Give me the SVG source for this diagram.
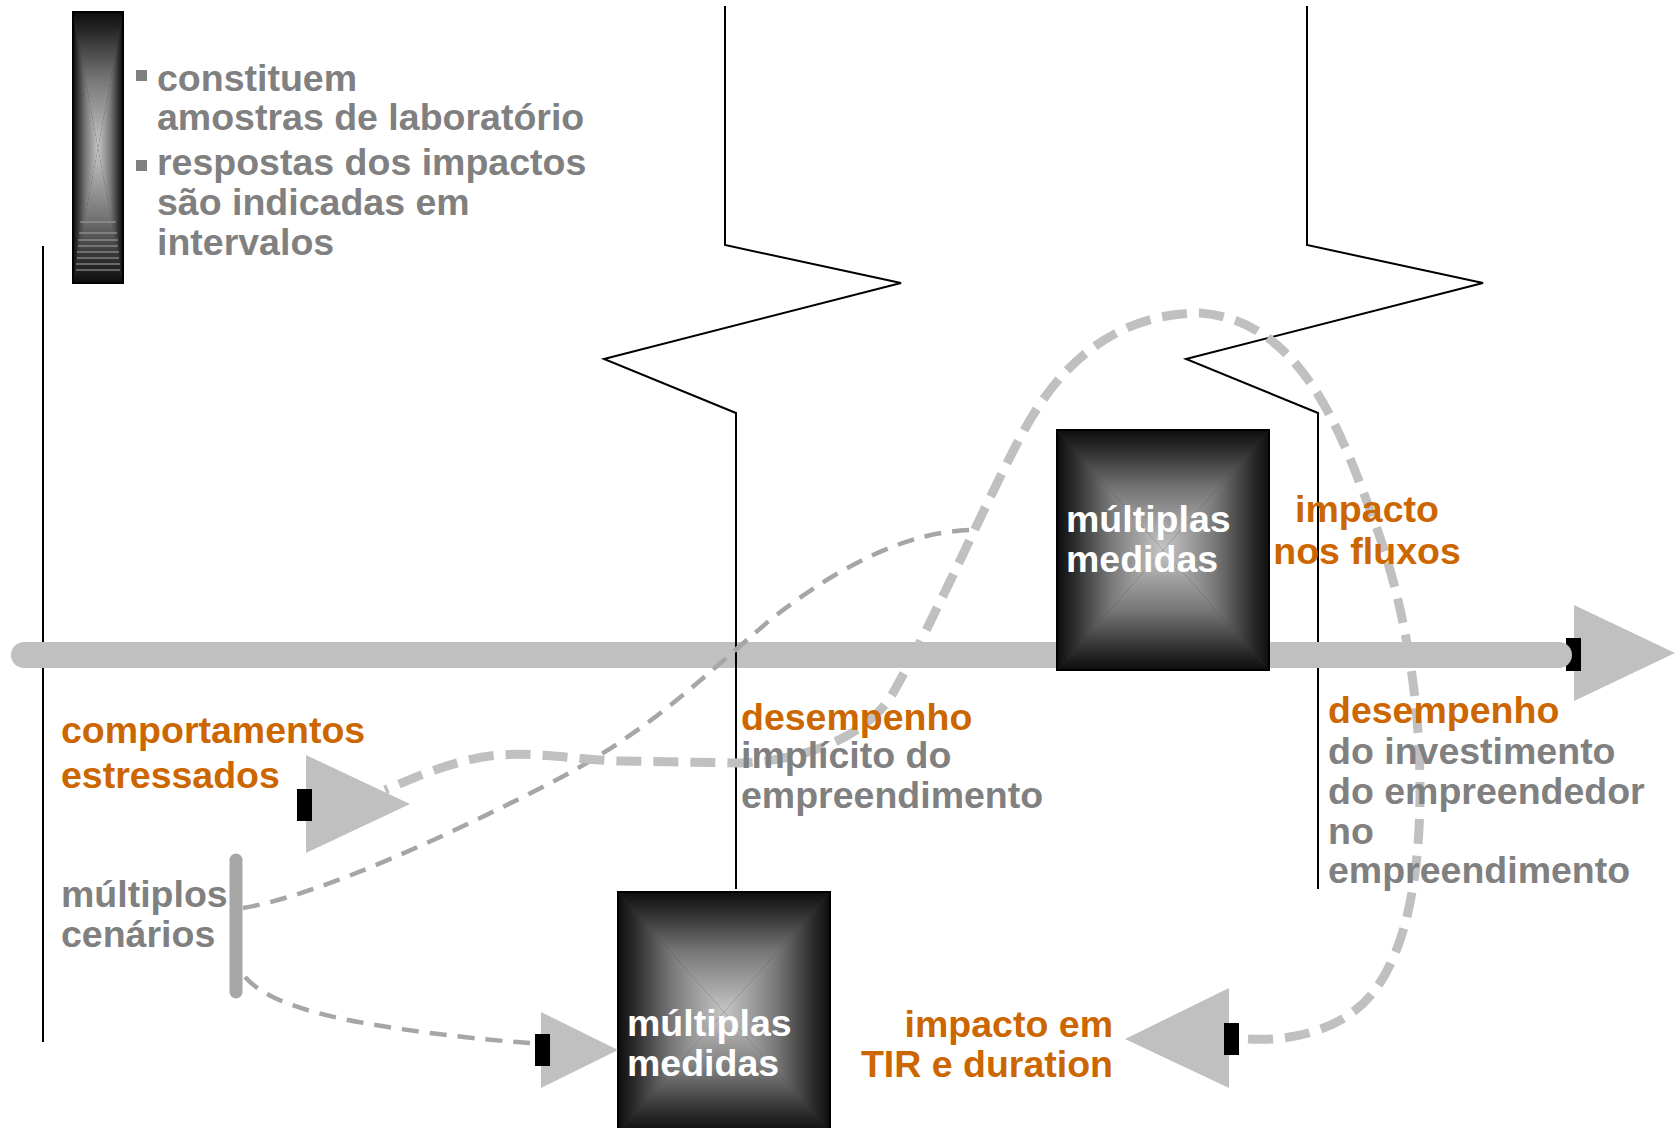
<svg xmlns="http://www.w3.org/2000/svg" width="1675" height="1128" viewBox="0 0 1675 1128">
<defs>
<linearGradient id="gT" x1="0" y1="0" x2="0" y2="1"><stop offset="0" stop-color="#0d0d0d"/><stop offset="0.15" stop-color="#2a2a2a"/><stop offset="0.5" stop-color="#777"/><stop offset="1" stop-color="#c6c6c6"/></linearGradient>
<linearGradient id="gB" x1="0" y1="1" x2="0" y2="0"><stop offset="0" stop-color="#0d0d0d"/><stop offset="0.15" stop-color="#2a2a2a"/><stop offset="0.5" stop-color="#777"/><stop offset="1" stop-color="#c6c6c6"/></linearGradient>
<linearGradient id="gL" x1="0" y1="0" x2="1" y2="0"><stop offset="0" stop-color="#0d0d0d"/><stop offset="0.15" stop-color="#2a2a2a"/><stop offset="0.5" stop-color="#777"/><stop offset="1" stop-color="#c6c6c6"/></linearGradient>
<linearGradient id="gR" x1="1" y1="0" x2="0" y2="0"><stop offset="0" stop-color="#0d0d0d"/><stop offset="0.15" stop-color="#2a2a2a"/><stop offset="0.5" stop-color="#777"/><stop offset="1" stop-color="#c6c6c6"/></linearGradient>
</defs>
<style>
.t{font-family:"Liberation Sans",Arial,Helvetica,sans-serif;font-weight:bold;font-size:37.5px}
.g{fill:#808080}
.o{fill:#cc6600}
.w{fill:#ffffff}
.ln{fill:none;stroke:#000;stroke-width:2}
.tri{fill:#c0c0c0}
.blk{fill:#000}
.thin{fill:none;stroke:#a6a6a6;stroke-width:4.5;stroke-dasharray:17 11}
.thick{fill:none;stroke:#c0c0c0;stroke-width:9;stroke-dasharray:25 12}
.frame{fill:none;stroke:#000;stroke-width:2}
.stripe{stroke:#a0a0a0;stroke-width:1.5;opacity:0.7}
</style>

<g id="guides">
<line class="ln" x1="43" y1="246" x2="43" y2="1042"/>
<polyline class="ln" points="1307,6 1307,245 1483,283 1186,359 1318,413 1318,889"/>
</g>

<g id="axis">
<polygon class="tri" points="1574,605 1675,653 1574,701"/>
<rect class="blk" x="1566" y="638" width="15" height="33"/>
<line x1="24" y1="655" x2="1559" y2="655" stroke="#c0c0c0" stroke-width="26" stroke-linecap="round"/>
</g>

<g id="guide1">
<polyline class="ln" points="725,6 725,245 901,283 604,359 736,413 736,889"/>
</g>

<g id="legend">
<rect x="73" y="12" width="50" height="271" fill="#333"/>
<polygon points="73,12 123,12 98,148" fill="url(#gT)"/>
<polygon points="73,283 123,283 98,148" fill="url(#gB)"/>
<polygon points="73,12 73,283 98,148" fill="url(#gL)"/>
<polygon points="123,12 123,283 98,148" fill="url(#gR)"/>
<line class="stripe" x1="80" y1="222" x2="116" y2="222"/>
<line class="stripe" x1="79" y1="233" x2="117" y2="233"/>
<line class="stripe" x1="78" y1="240" x2="118" y2="240"/>
<line class="stripe" x1="78" y1="246" x2="118" y2="246"/>
<line class="stripe" x1="77" y1="252" x2="119" y2="252"/>
<line class="stripe" x1="77" y1="258" x2="119" y2="258"/>
<line class="stripe" x1="76" y1="264" x2="120" y2="264"/>
<line class="stripe" x1="76" y1="270" x2="120" y2="270"/>
<rect class="frame" x="73" y="12" width="50" height="271"/>
<rect x="136" y="70" width="11" height="11" fill="#808080"/>
<rect x="136" y="160" width="11" height="11" fill="#808080"/>
<text class="t g" x="157" y="91">constituem</text>
<text class="t g" x="157" y="130">amostras de laboratório</text>
<text class="t g" x="157" y="175">respostas dos impactos</text>
<text class="t g" x="157" y="215">são indicadas em</text>
<text class="t g" x="157" y="255">intervalos</text>
</g>

<g id="connectors">
<path class="thin" d="M 243 908 C 320 895, 450 835, 560 778 C 650 730, 700 680, 770 620 C 840 565, 910 530, 975 530"/>
<path class="thin" d="M 245 977 C 270 1005, 330 1020, 430 1033 C 470 1038, 500 1041, 530 1043"/>
<path class="thick" d="M 1248 1039 C 1300 1042, 1350 1025, 1375 990 C 1405 950, 1420 880, 1420 790 C 1420 700, 1405 600, 1370 510 C 1340 430, 1300 320, 1200 313 C 1120 313, 1065 360, 1030 420 C 995 480, 940 610, 893 693 C 873 728, 820 760, 740 763 L 620 761 C 580 760, 540 752, 500 755 C 460 758, 420 775, 385 790"/>
</g>

<g id="scenarios">
<line x1="236" y1="860" x2="236" y2="992" stroke="#a6a6a6" stroke-width="13" stroke-linecap="round"/>
<text class="t g" x="61" y="907">múltiplos</text>
<text class="t g" x="61" y="947">cenários</text>
</g>

<g id="stressed">
<polygon class="tri" points="306,755 410,804 306,853"/>
<rect class="blk" x="297" y="789" width="15" height="32"/>
<text class="t o" x="61" y="743">comportamentos</text>
<text class="t o" x="61" y="788">estressados</text>
</g>

<g id="box1">
<rect x="1057" y="430" width="212" height="240" fill="#333"/>
<polygon points="1057,430 1269,430 1163,550" fill="url(#gT)"/>
<polygon points="1057,670 1269,670 1163,550" fill="url(#gB)"/>
<polygon points="1057,430 1057,670 1163,550" fill="url(#gL)"/>
<polygon points="1269,430 1269,670 1163,550" fill="url(#gR)"/>
<rect class="frame" x="1057" y="430" width="212" height="240"/>
<text class="t w" x="1066" y="532">múltiplas</text>
<text class="t w" x="1066" y="572">medidas</text>
</g>

<g id="box2">
<rect x="618" y="892" width="212" height="240" fill="#333"/>
<polygon points="618,892 830,892 724,1012" fill="url(#gT)"/>
<polygon points="618,1132 830,1132 724,1012" fill="url(#gB)"/>
<polygon points="618,892 618,1132 724,1012" fill="url(#gL)"/>
<polygon points="830,892 830,1132 724,1012" fill="url(#gR)"/>
<rect class="frame" x="618" y="892" width="212" height="240"/>
<text class="t w" x="627" y="1036">múltiplas</text>
<text class="t w" x="627" y="1076">medidas</text>
</g>

<g id="input2">
<polygon class="tri" points="541,1012 618,1050 541,1088"/>
<rect class="blk" x="535" y="1034" width="15" height="32"/>
</g>

<g id="output-tir">
<polygon class="tri" points="1229,988 1125,1039 1229,1088"/>
<rect class="blk" x="1224" y="1023" width="15" height="32"/>
<text class="t o" x="1113" y="1037" text-anchor="end">impacto em</text>
<text class="t o" x="1113" y="1077" text-anchor="end">TIR e duration</text>
</g>

<g id="label-implicit">
<text class="t o" x="741" y="730">desempenho</text>
<text class="t g" x="741" y="768">implícito do</text>
<text class="t g" x="741" y="808">empreendimento</text>
</g>

<g id="label-flows">
<text class="t o" x="1367" y="522" text-anchor="middle">impacto</text>
<text class="t o" x="1367" y="564" text-anchor="middle">nos fluxos</text>
</g>

<g id="label-investor">
<text class="t o" x="1328" y="723">desempenho</text>
<text class="t g" x="1328" y="764">do investimento</text>
<text class="t g" x="1328" y="804">do empreendedor</text>
<text class="t g" x="1328" y="844">no</text>
<text class="t g" x="1328" y="883">empreendimento</text>
</g>
</svg>
